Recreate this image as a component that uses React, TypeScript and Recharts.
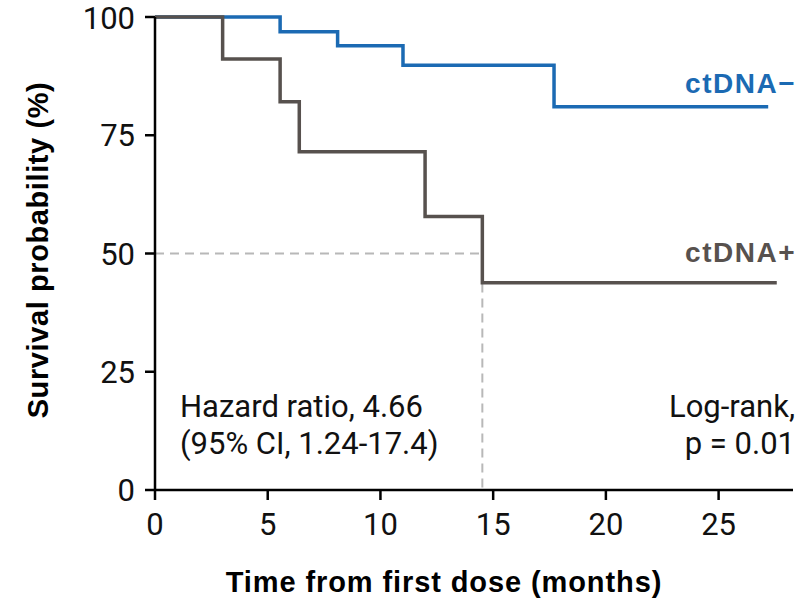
import React from 'react';
import { LineChart, Line, XAxis, YAxis, ReferenceLine } from 'recharts';

// Kaplan-Meier steps (months, survival %)
const negTimes = [0, 5.55, 8.1, 11.0, 17.7, 27.2];
const negSurv = [100, 96.9, 93.9, 89.8, 81.0, 81.0];

const posTimes = [0, 3.0, 5.55, 6.4, 11.98, 14.52, 27.58];
const posSurv = [100, 91.1, 82.1, 71.5, 57.8, 43.8, 43.8];

const xTicks = [0, 5, 10, 15, 20, 25];
const yTicks = [0, 25, 50, 75, 100];
const medianTime = 14.52;

const BLUE = '#1b6ab3';
const GRAY = '#57514e';
const DASH = '#b8b8b8';
const FONT = '"Liberation Sans", Arial, sans-serif';
const TEXT_FONT = 'Roboto, "Liberation Sans", sans-serif';

const negData = negTimes.map((t, i) => ({ t, s: negSurv[i] }));
const posData = posTimes.map((t, i) => ({ t, s: posSurv[i] }));

const App: React.FC = () => {
  return (
    <div style={{ position: 'absolute', left: 0, top: 0, background: '#fff' }}>
      <LineChart width={810} height={601} margin={{ top: 17, right: 17, left: 0, bottom: 0 }}>
        <XAxis
          type="number"
          dataKey="t"
          height={111}
          domain={[0, 28.3]}
          ticks={xTicks}
          allowDataOverflow
          axisLine={{ stroke: '#000', strokeWidth: 2.5 }}
          tickLine={{ stroke: '#000', strokeWidth: 2.5 }}
          tickSize={10}
          tickMargin={13}
          tick={{ fill: '#111', fontSize: 31, fontFamily: TEXT_FONT }}
          label={{
            content: () => (
              <text
                x={444}
                y={592}
                textAnchor="middle"
                fontFamily={FONT}
                fontWeight="bold"
                fontSize={29}
                letterSpacing={0.9}
                fill="#000"
              >
                Time from first dose (months)
              </text>
            ),
          }}
        />
        <YAxis
          type="number"
          dataKey="s"
          width={155}
          domain={[0, 100]}
          ticks={yTicks}
          axisLine={{ stroke: '#000', strokeWidth: 2.5 }}
          tickLine={{ stroke: '#000', strokeWidth: 2.5 }}
          tickSize={10}
          tickMargin={10}
          tick={{ fill: '#111', fontSize: 31, fontFamily: TEXT_FONT }}
          label={{
            content: () => (
              <text
                x={48}
                y={250}
                transform="rotate(-90 48 250)"
                textAnchor="middle"
                fontFamily={FONT}
                fontWeight="bold"
                fontSize={29}
                letterSpacing={0.6}
                fill="#000"
              >
                Survival probability (%)
              </text>
            ),
          }}
        />
        <ReferenceLine
          segment={[{ x: 0, y: 50 }, { x: medianTime, y: 50 }]}
          stroke={DASH}
          strokeWidth={2}
          strokeDasharray="9 6"
        />
        <ReferenceLine
          segment={[{ x: medianTime, y: 50 }, { x: medianTime, y: 0 }]}
          stroke={DASH}
          strokeWidth={2}
          strokeDasharray="9 6"
        />
        <Line
          data={negData}
          dataKey="s"
          type="stepAfter"
          stroke={BLUE}
          strokeWidth={3.5}
          dot={false}
          isAnimationActive={false}
        />
        <Line
          data={posData}
          dataKey="s"
          type="stepAfter"
          stroke={GRAY}
          strokeWidth={3.5}
          dot={false}
          isAnimationActive={false}
        />
        <g fontFamily={FONT}>
          <text x={796} y={93} textAnchor="end" fontSize={28} letterSpacing={1.5} fontWeight="bold" fill={BLUE}>
            ctDNA−
          </text>
          <text x={796} y={262} textAnchor="end" fontSize={28} letterSpacing={1.5} fontWeight="bold" fill={GRAY}>
            ctDNA+
          </text>
        </g>
        <g fontFamily={TEXT_FONT} fontSize={31} fill="#111">
          <text x={180} y={417}>Hazard ratio, 4.66</text>
          <text x={180} y={454}>(95% CI, 1.24-17.4)</text>
          <text x={795} y={417} textAnchor="end">Log-rank,</text>
          <text x={795} y={454} textAnchor="end">p = 0.01</text>
        </g>
      </LineChart>
    </div>
  );
};

export default App;
